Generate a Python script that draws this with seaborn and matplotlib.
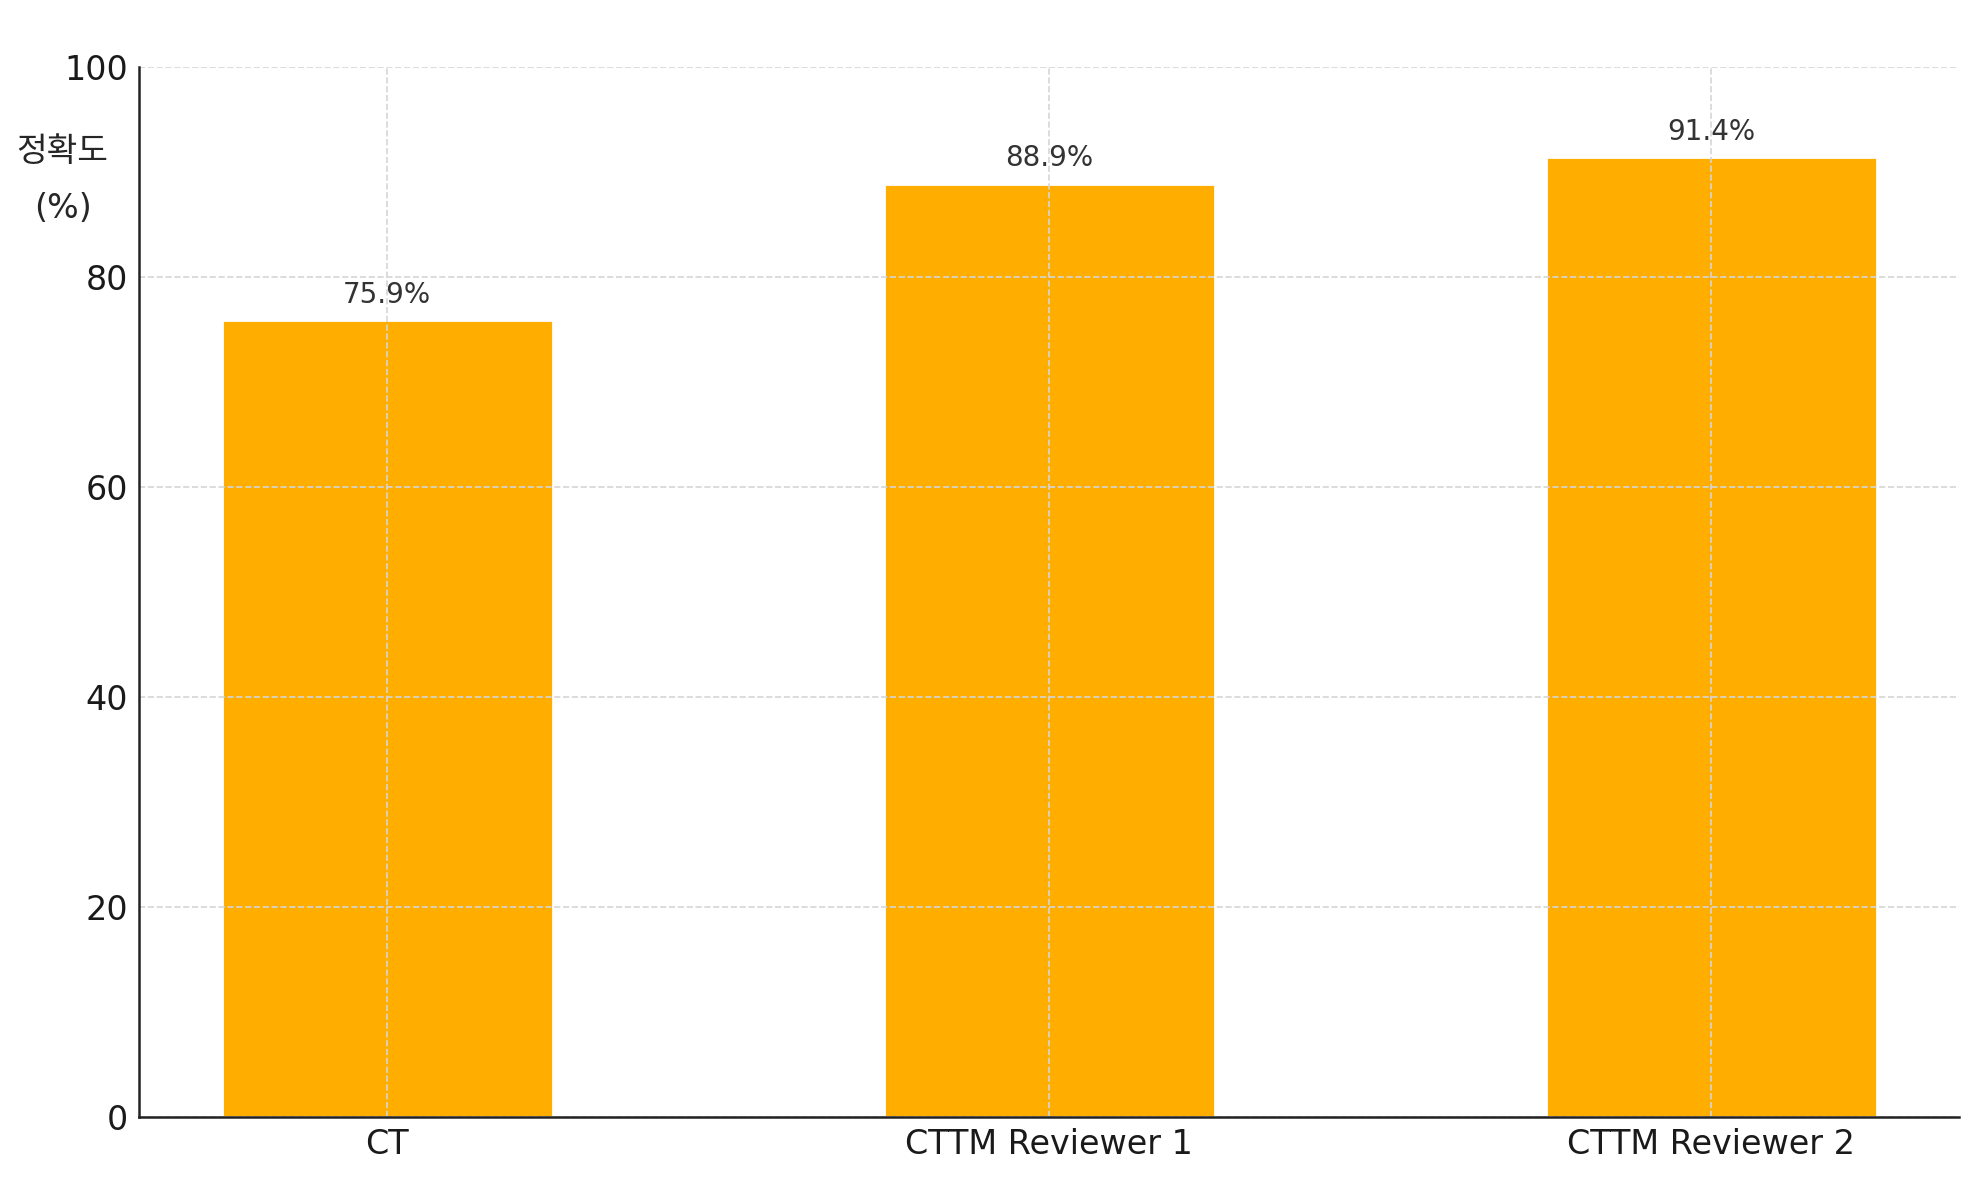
import matplotlib
matplotlib.use("Agg")
import matplotlib.pyplot as plt
import seaborn as sns
import pandas as pd

# 데이터
categories = ["CT", "CTTM Reviewer 1", "CTTM Reviewer 2"]
accuracy = [75.9, 88.9, 91.4]
y_ticks = [0, 20, 40, 60, 80, 100]

sns.set_style("white")
plt.rcParams['font.family'] = ['DejaVu Sans', 'Noto Sans CJK KR']

df = pd.DataFrame({"group": categories, "acc": accuracy})

fig, ax = plt.subplots(figsize=(9.9, 5.9), dpi=200)
fig.subplots_adjust(left=0.0702, right=0.9896, top=0.9432, bottom=0.0534)

sns.barplot(data=df, x="group", y="acc", color="#FFAE00", saturation=1,
            width=0.5, ax=ax, zorder=1)

# 막대 위 라벨
for cont in ax.containers:
    ax.bar_label(cont, labels=[f"{v:.1f}%" for v in accuracy], padding=4,
                 fontsize=10, color="#333333")

ax.set_xlim(-0.375, 2.375)
ax.set_ylim(0, 100)
ax.set_yticks(y_ticks)
ax.set_xlabel("")
ax.set_ylabel("정확도\n(%)", rotation=0, fontsize=12, linespacing=1.9)
ax.yaxis.set_label_coords(-0.042, 0.85)

ax.grid(True, linestyle="--", color="#d5d5d5", linewidth=0.6)
ax.set_axisbelow(False)
for s in ["top", "right"]:
    ax.spines[s].set_visible(False)
for s in ["left", "bottom"]:
    ax.spines[s].set_color("#222222")
    ax.spines[s].set_linewidth(0.9)
    ax.spines[s].set_zorder(3)
ax.tick_params(direction="in", length=3.5, width=0.9, labelsize=12,
               colors="#222222", pad=4)
ax.tick_params(axis="both", labelcolor="#1a1a1a")

fig.savefig("out.png", dpi=200)
